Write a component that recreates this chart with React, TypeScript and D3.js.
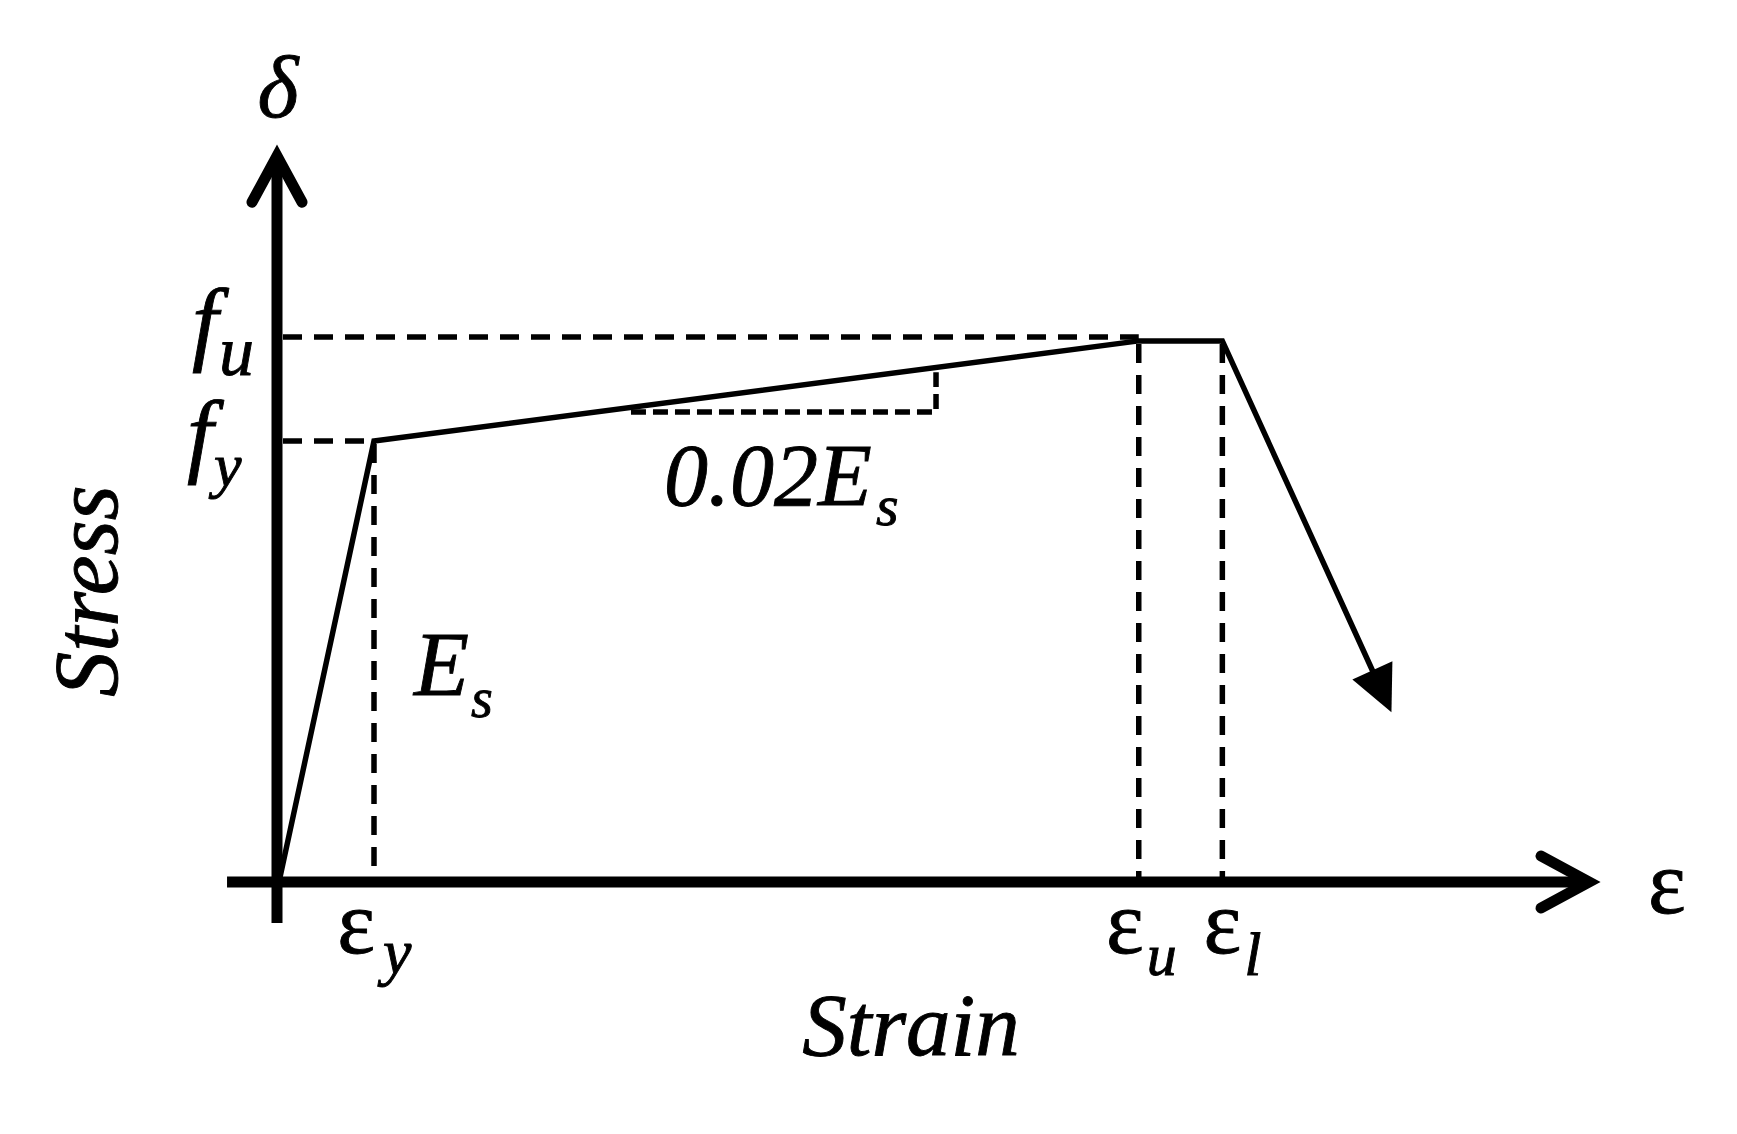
import React from "react";
import * as d3 from "d3";

// ---- data (schematic units: strain in units of εy, stress in units of fy)
const curveStrain = [0, 1.0, 9.05, 9.93, 11.71];
const curveStress = [0, 1.0, 1.227, 1.227, 0.385];

const strainTicks = [1.0, 9.05, 9.93];
const strainTickSubs = ["y", "u", "l"];
const stressTicks = [1.0, 1.227];
const stressTickSubs = ["y", "u"];

const slopeTriStrain = [3.705, 6.916];
const slopeTriStress = [1.066, 1.156];

const xAxisExtent = [-0.547, 13.79];
const yAxisExtent = [-0.093, 1.646];

const W = 1737;
const H = 1134;
const FONT = "Liberation Serif, Times New Roman, serif";

export default function App() {
  const x = d3.scaleLinear().domain([0, 1]).range([279, 374]);
  const y = d3.scaleLinear().domain([0, 1]).range([882, 441]);

  const pts: [number, number][] = curveStrain.map((s, i) => [x(s), y(curveStress[i])]);
  const n = pts.length;
  const tip = pts[n - 1];
  const prev = pts[n - 2];
  const dx = tip[0] - prev[0];
  const dy = tip[1] - prev[1];
  const len = Math.hypot(dx, dy);
  const ux = dx / len;
  const uy = dy / len;
  const headLen = 46;
  const headHalf = 22;
  const base: [number, number] = [tip[0] - ux * headLen, tip[1] - uy * headLen];
  const head = [
    [tip[0], tip[1]],
    [base[0] - uy * headHalf, base[1] + ux * headHalf],
    [base[0] + uy * headHalf, base[1] - ux * headHalf],
  ];
  const linePts = [...pts.slice(0, n - 1), [base[0] + ux * 4, base[1] + uy * 4]] as [number, number][];
  const line = d3.line<[number, number]>()(linePts) || "";

  const y0 = y(0);
  const xEnd = x(xAxisExtent[1]);
  const yEnd = y(yAxisExtent[1]);

  const dash = "19 12";
  const dashW = 5.5;
  const ax = 277;

  const ts = (size: number, italic = true): React.CSSProperties => ({
    fontFamily: FONT,
    fontSize: size,
    fontStyle: italic ? "italic" : "normal",
  });

  return (
    <svg width={W} height={H} style={{ position: "absolute", left: 0, top: 0, background: "#fff" }}>
      <rect width={W} height={H} fill="#fff" />
      {/* dashed guides */}
      <g stroke="#000" strokeWidth={dashW} strokeDasharray={dash} fill="none">
        <line x1={ax + 6} x2={x(strainTicks[0])} y1={y(stressTicks[0])} y2={y(stressTicks[0])} />
        <line x1={ax + 6} x2={x(strainTicks[1])} y1={y(stressTicks[1]) - 4} y2={y(stressTicks[1]) - 4} />
        {strainTicks.map((s, i) => (
          <line key={i} x1={x(s)} x2={x(s)} y1={y(i === 0 ? stressTicks[0] : stressTicks[1]) + 3} y2={y0} />
        ))}
        <polyline
          points={`${x(slopeTriStrain[0])},${y(slopeTriStress[0])} ${x(slopeTriStrain[1])},${y(slopeTriStress[0])} ${x(slopeTriStrain[1])},${y(slopeTriStress[1])}`}
          strokeDasharray="15 7"
        />
      </g>

      {/* axes */}
      <g stroke="#000" strokeWidth={11} fill="none">
        <line x1={x(xAxisExtent[0])} x2={xEnd} y1={y0} y2={y0} />
        <line x1={ax} x2={ax} y1={y(yAxisExtent[0])} y2={yEnd} />
        <polyline
          points={`${xEnd - 48},${y0 - 26} ${xEnd},${y0} ${xEnd - 48},${y0 + 26}`}
          strokeLinecap="round"
          strokeLinejoin="miter"
        />
        <polyline
          points={`${ax - 25},${yEnd + 46} ${ax},${yEnd} ${ax + 25},${yEnd + 46}`}
          strokeLinecap="round"
          strokeLinejoin="miter"
        />
      </g>

      {/* curve */}
      <path d={line} stroke="#000" strokeWidth={5.5} fill="none" strokeLinejoin="miter" />
      <polygon points={head.map((p) => p.join(",")).join(" ")} fill="#000" />

      {/* labels */}
      <g fill="#000" stroke="#000" strokeWidth={0.9}>
        <text x={ax + 1} y={117} style={ts(88)} textAnchor="middle">δ</text>
        <text x={1648} y={913} style={ts(90, false)}>ε</text>

        {/* stress tick labels */}
        <text x={192} y={353} style={ts(94)}>f</text>
        <text x={219} y={375} style={ts(70)}>{stressTickSubs[1]}</text>
        <text x={187} y={465} style={ts(94)}>f</text>
        <text x={214} y={486} style={ts(62)}>{stressTickSubs[0]}</text>

        {/* strain tick labels */}
        <text x={x(strainTicks[0]) + 1} y={953} style={ts(90, false)} textAnchor="end">ε</text>
        <text x={x(strainTicks[0]) + 9} y={973} style={ts(64)}>{strainTickSubs[0]}</text>
        <text x={x(strainTicks[1]) + 5} y={953} style={ts(90, false)} textAnchor="end">ε</text>
        <text x={x(strainTicks[1]) + 8} y={975} style={ts(60)}>{strainTickSubs[1]}</text>
        <text x={x(strainTicks[2])} y={953} style={ts(90, false)} textAnchor="middle">ε</text>
        <text x={x(strainTicks[2]) + 22} y={975} style={ts(62)}>{strainTickSubs[2]}</text>

        {/* slope labels */}
        <text x={664} y={505} style={ts(88)}>0.02E</text>
        <text x={876} y={525} style={ts(58)}>s</text>
        <text x={414} y={695} style={ts(90)}>E</text>
        <text x={471} y={717} style={ts(56)}>s</text>

        {/* axis titles */}
        <text transform="translate(117,591) rotate(-90)" style={ts(90)} textAnchor="middle">Stress</text>
        <text x={911} y={1055} style={ts(89)} textAnchor="middle">Strain</text>
      </g>
    </svg>
  );
}
